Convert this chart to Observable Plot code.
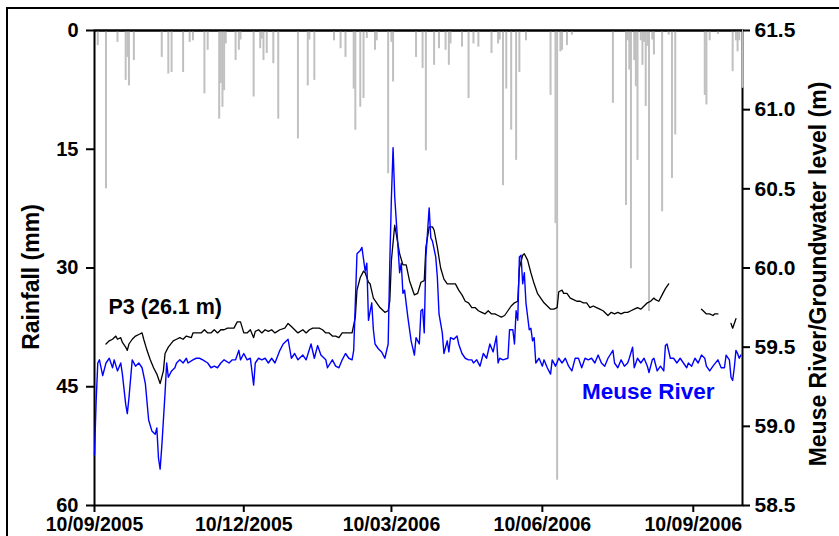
<!DOCTYPE html>
<html>
<head>
<meta charset="utf-8">
<script src="https://cdn.jsdelivr.net/npm/d3@7"></script>
<script src="https://cdn.jsdelivr.net/npm/@observablehq/plot@0.6"></script>
<style>
  body { margin: 0; background: #fff; }
  #wrap { position: relative; width: 839px; height: 536px; overflow: hidden; background: #fff; }
  #wrap svg { position: absolute; left: 0; top: 0; }
  #frame { position: absolute; left: 6px; top: 7px; width: 900px; height: 600px;
           border-top: 2px solid #000; border-left: 2px solid #000; pointer-events: none; }
</style>
</head>
<body>
<div id="wrap"><div id="frame"></div></div>
<script>
// ---- data ----
const startDate = "2005-09-10";
const endDate = "2006-10-10";
const xTickLabels = ["2005-09-10", "2005-12-10", "2006-03-10", "2006-06-10", "2006-09-10"];
const rainTicks = [0, 15, 30, 45, 60];
const levelTicks = [58.5, 59.0, 59.5, 60.0, 60.5, 61.0, 61.5];

// daily rainfall (day since start, mm)
const rainDay = [2,7,14,19,20,21,24,41,45,47,54,58,60,67,69,76,77,78,79,80,86,88,89,97,101,102,103,105,109,112,124,130,131,134,146,150,153,158,159,162,164,166,171,172,179,181,182,196,200,202,207,210,214,216,217,224,228,231,234,242,246,247,249,251,254,257,259,263,278,281,282,284,285,288,291,316,324,325,326,327,329,330,331,333,334,335,336,337,338,340,341,346,350,352,354,372,373,375,380,389,391,392,393,395];
const rainMm = [1.9,20.0,1.5,6.3,3.4,7.0,3.8,3.4,5.5,5.3,5.3,1.5,1.3,8.0,2.5,11.2,6.7,9.7,7.6,1.7,3.8,2.5,1.2,8.4,2.3,1.1,3.8,2.9,4.2,11.2,13.7,7.0,1.2,6.3,1.3,2.3,3.4,7.4,12.6,9.7,8.6,1.0,2.5,1.3,18.1,1.5,6.5,3.4,4.8,15.2,4.4,2.3,2.5,4.4,1.7,2.1,8.6,1.7,2.1,2.9,1.7,1.2,19.6,7.4,12.6,16.4,5.3,1.3,8.2,24.4,56.8,2.7,2.5,1.9,0.6,9.2,22.1,1.3,5.0,30.1,3.8,7.1,16.4,1.3,4.4,1.5,9.6,2.0,35.5,1.2,3.1,22.9,0.6,18.7,13.2,8.2,9.4,1.3,0.5,5.2,1.3,2.7,1.3,7.3];

// Meuse River level [day since start, m]
const meuseSeries = [[0,58.82],[1,59.16],[2,59.40],[3,59.42],[5,59.32],[7,59.40],[9,59.43],[11,59.37],[12,59.42],[14,59.35],[16,59.40],[17,59.33],[19,59.14],[20,59.08],[21,59.18],[23,59.42],[25,59.38],[27,59.40],[29,59.37],[31,59.27],[33,59.04],[35,58.97],[37,58.95],[38,58.99],[39,58.80],[40,58.73],[41,58.87],[43,59.21],[44,59.40],[45,59.31],[47,59.35],[49,59.37],[50,59.40],[52,59.42],[54,59.40],[56,59.43],[57,59.40],[60,59.42],[62,59.43],[64,59.43],[66,59.42],[69,59.40],[71,59.37],[73,59.38],[75,59.37],[77,59.40],[79,59.42],[82,59.40],[84,59.42],[86,59.42],[88,59.48],[89,59.42],[91,59.46],[93,59.42],[95,59.43],[97,59.26],[98,59.40],[100,59.43],[102,59.42],[104,59.43],[106,59.40],[108,59.43],[110,59.40],[113,59.48],[115,59.52],[118,59.55],[120,59.43],[122,59.46],[124,59.42],[127,59.45],[129,59.42],[132,59.52],[134,59.43],[136,59.51],[138,59.45],[141,59.42],[142,59.37],[145,59.42],[147,59.38],[149,59.37],[151,59.42],[153,59.46],[155,59.43],[157,59.42],[158,59.48],[160,60.09],[162,60.11],[163,60.13],[165,59.98],[166,60.03],[167,59.67],[169,59.78],[170,59.61],[171,59.52],[173,59.49],[175,59.47],[177,59.43],[179,59.52],[180,60.03],[181,60.45],[182,60.76],[183,60.45],[185,60.13],[186,59.97],[187,60.03],[188,59.84],[189,59.86],[191,59.69],[193,59.54],[195,59.45],[196,59.56],[198,59.52],[199,59.73],[200,59.74],[201,59.59],[202,60.07],[204,60.38],[205,60.19],[206,60.17],[208,60.07],[209,59.94],[210,59.71],[212,59.59],[213,59.46],[215,59.54],[216,59.47],[217,59.56],[219,59.55],[221,59.57],[222,59.52],[224,59.46],[226,59.43],[228,59.42],[230,59.42],[231,59.40],[233,59.42],[235,59.38],[237,59.46],[239,59.43],[241,59.52],[243,59.47],[245,59.57],[246,59.40],[247,59.43],[249,59.42],[252,59.43],[253,59.61],[255,59.61],[256,59.52],[257,59.73],[258,59.67],[259,60.07],[260,60.08],[261,59.90],[262,59.97],[263,59.78],[265,59.61],[266,59.62],[267,59.54],[268,59.56],[269,59.40],[271,59.43],[273,59.38],[274,59.42],[276,59.37],[278,59.33],[279,59.42],[281,59.38],[283,59.43],[285,59.40],[287,59.43],[289,59.38],[291,59.35],[293,59.43],[295,59.43],[297,59.37],[299,59.43],[301,59.42],[303,59.43],[305,59.40],[307,59.45],[309,59.40],[311,59.38],[313,59.43],[316,59.48],[317,59.40],[319,59.37],[321,59.42],[323,59.38],[325,59.40],[326,59.43],[328,59.50],[329,59.37],[331,59.43],[333,59.40],[335,59.43],[337,59.38],[338,59.34],[340,59.42],[341,59.43],[343,59.35],[345,59.38],[347,59.35],[348,59.51],[349,59.52],[351,59.43],[353,59.43],[355,59.40],[357,59.43],[359,59.40],[361,59.37],[362,59.40],[364,59.38],[366,59.43],[368,59.40],[370,59.45],[372,59.43],[373,59.38],[375,59.35],[377,59.38],[380,59.42],[382,59.37],[384,59.37],[385,59.45],[387,59.42],[388,59.31],[389,59.29],[390,59.37],[391,59.48],[392,59.46],[393,59.43],[394,59.45]];

// Groundwater level P3 [day since start, m] (null = no record)
const p3Series = [[7,59.52],[9,59.54],[11,59.55],[13,59.57],[14,59.55],[16,59.56],[17,59.53],[19,59.50],[20,59.48],[21,59.52],[23,59.55],[25,59.57],[27,59.58],[29,59.59],[30,59.55],[32,59.48],[34,59.42],[36,59.37],[38,59.33],[40,59.27],[42,59.35],[43,59.46],[45,59.50],[48,59.54],[50,59.55],[52,59.56],[54,59.55],[56,59.57],[59,59.56],[60,59.59],[63,59.59],[65,59.59],[67,59.61],[69,59.59],[71,59.59],[73,59.61],[75,59.59],[77,59.61],[79,59.61],[81,59.62],[83,59.62],[85,59.62],[87,59.66],[89,59.66],[91,59.59],[93,59.59],[95,59.61],[97,59.56],[98,59.60],[100,59.61],[102,59.59],[104,59.61],[106,59.60],[108,59.61],[110,59.59],[113,59.61],[116,59.62],[118,59.65],[120,59.63],[122,59.61],[124,59.59],[127,59.61],[129,59.59],[131,59.61],[133,59.62],[135,59.62],[137,59.62],[139,59.61],[141,59.59],[143,59.59],[145,59.57],[147,59.57],[149,59.56],[151,59.59],[153,59.59],[155,59.59],[157,59.59],[159,59.69],[160,59.86],[162,59.94],[164,59.98],[165,59.97],[167,59.91],[168,59.90],[170,59.81],[172,59.78],[174,59.75],[177,59.72],[179,59.73],[180,59.79],[181,60.05],[183,60.27],[185,60.15],[186,60.09],[188,60.02],[190,60.02],[192,59.92],[194,59.86],[195,59.83],[197,59.84],[199,59.91],[201,59.92],[202,60.13],[204,60.26],[206,60.26],[207,60.24],[209,60.13],[211,60.00],[213,59.93],[215,59.90],[217,59.90],[220,59.90],[222,59.86],[224,59.83],[226,59.79],[228,59.78],[230,59.75],[232,59.75],[234,59.73],[236,59.72],[238,59.71],[240,59.73],[242,59.71],[244,59.71],[246,59.70],[248,59.69],[250,59.70],[252,59.73],[254,59.76],[256,59.78],[258,59.79],[259,60.00],[261,60.08],[262,60.09],[264,60.05],[266,59.97],[268,59.90],[270,59.84],[272,59.81],[274,59.78],[276,59.76],[278,59.74],[280,59.74],[282,59.75],[283,59.85],[285,59.86],[286,59.84],[288,59.84],[290,59.81],[292,59.80],[294,59.79],[296,59.79],[298,59.78],[300,59.78],[302,59.75],[304,59.76],[306,59.75],[308,59.74],[310,59.73],[313,59.70],[315,59.72],[317,59.71],[319,59.72],[321,59.71],[323,59.72],[325,59.72],[327,59.73],[329,59.74],[331,59.75],[333,59.74],[335,59.76],[337,59.78],[339,59.79],[341,59.81],[342,59.80],[344,59.79],[346,59.83],[348,59.87],[350,59.90],[351,null],[370,59.74],[371,59.73],[373,59.71],[375,59.71],[377,59.70],[378,59.71],[380,59.71],[381,null],[388,59.65],[389,59.62],[390,59.65],[391,59.68]];

const titleLeft = "Rainfall (mm)";
const titleRight = "Meuse River/Groundwater level (m)";
const labelP3 = "P3 (26.1 m)";
const labelMeuse = "Meuse River";

// ---- build ----
const parse = d3.utcParse("%Y-%m-%d");
const t0 = parse(startDate);
const toDate = d => d3.utcDay.offset(t0, d);
const levelTop = levelTicks[levelTicks.length - 1];
const levelBottom = levelTicks[0];
const rainMax = rainTicks[rainTicks.length - 1];
const mmPerM = rainMax / (levelTop - levelBottom);
const mmToLevel = mm => levelTop - mm / mmPerM;

const rain = rainDay.map((d, i) => ({date: toDate(d), mm: rainMm[i]}));
const meuse = meuseSeries.map(([d, v]) => ({date: toDate(d), level: v}));
const p3 = p3Series.map(([d, v]) => ({date: toDate(d), level: v}));

const font = "'Liberation Sans', Arial, Helvetica, sans-serif";

const chart = Plot.plot({
  width: 839,
  height: 536,
  marginLeft: 94,
  marginRight: 97,
  marginTop: 30,
  marginBottom: 31,
  style: {fontFamily: font, fontWeight: "bold", fontSize: "20px", color: "#000", background: "transparent", overflow: "visible"},
  x: {type: "utc", domain: [parse(startDate), parse(endDate)]},
  y: {domain: [levelBottom, levelTop]},
  marks: [
    Plot.frame({stroke: "#000", strokeWidth: 2}),
    Plot.ruleX(rain, {x: "date", y1: () => levelTop, y2: d => mmToLevel(d.mm), stroke: "#c0c0c0", strokeWidth: 2}),
    Plot.ruleY([levelTop], {stroke: "#000", strokeWidth: 2}),
    Plot.line(p3, {x: "date", y: "level", stroke: "#000", strokeWidth: 1.3}),
    Plot.line(meuse, {x: "date", y: "level", stroke: "#0000ff", strokeWidth: 1.4}),
    Plot.axisX(xTickLabels.map(parse), {tickFormat: d3.utcFormat("%d/%m/%Y"), tickSize: 7, tickPadding: 5, strokeWidth: 2, fontSize: 19.5, label: null}),
    Plot.axisY(rainTicks.map(mmToLevel), {anchor: "left", tickFormat: v => String(Math.round((levelTop - v) * mmPerM)), tickSize: 8, tickPadding: 8, strokeWidth: 2, fontSize: 20, label: null}),
    Plot.axisY(levelTicks, {anchor: "right", tickFormat: d3.format(".1f"), tickSize: 7, tickPadding: 5, strokeWidth: 2, fontSize: 21, label: null}),
    Plot.text([titleLeft], {frameAnchor: "left", textAnchor: "middle", dx: -63, dy: 9, rotate: -90, fontSize: 23, fontWeight: "bold"}),
    Plot.text([titleRight], {frameAnchor: "right", textAnchor: "middle", dx: 76, dy: 6, rotate: -90, fontSize: 23, fontWeight: "bold"}),
    Plot.text([labelP3], {frameAnchor: "left", textAnchor: "start", dx: 14, dy: 39, fontSize: 21.5, fontWeight: "bold", letterSpacing: 0.6}),
    Plot.text([labelMeuse], {frameAnchor: "bottom-right", textAnchor: "end", dx: -28, dy: -107, fill: "#0000ff", fontSize: 22.5, fontWeight: "bold"})
  ]
});
document.getElementById("wrap").insertBefore(chart, document.getElementById("frame"));
</script>
</body>
</html>
